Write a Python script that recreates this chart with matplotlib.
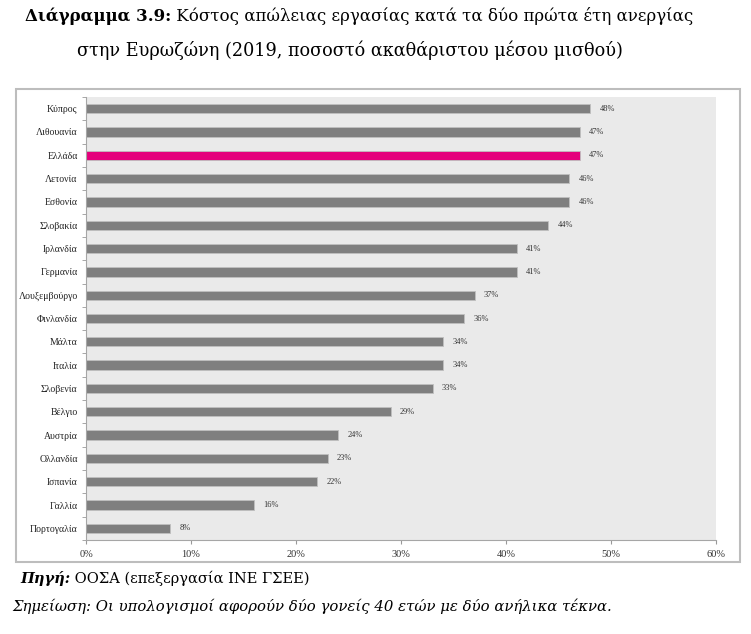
import matplotlib
matplotlib.use("Agg")
import matplotlib.pyplot as plt
from matplotlib.patches import Rectangle
import numpy as np

countries = ["Κύπρος", "Λιθουανία", "Ελλάδα", "Λετονία", "Εσθονία", "Σλοβακία",
             "Ιρλανδία", "Γερμανία", "Λουξεμβούργο", "Φινλανδία", "Μάλτα", "Ιταλία",
             "Σλοβενία", "Βέλγιο", "Αυστρία", "Ολλανδία", "Ισπανία", "Γαλλία", "Πορτογαλία"]
values = [48, 47, 47, 46, 46, 44, 41, 41, 37, 36, 34, 34, 33, 29, 24, 23, 22, 16, 8]
highlight = "Ελλάδα"
xticks = [0, 10, 20, 30, 40, 50, 60]

title_bold = "Διάγραμμα 3.9:"
title_rest = " Κόστος απώλειας εργασίας κατά τα δύο πρώτα έτη ανεργίας"
title_line2 = "στην Ευρωζώνη (2019, ποσοστό ακαθάριστου μέσου μισθού)"
source_bold = "Πηγή:"
source_rest = " ΟΟΣΑ (επεξεργασία ΙΝΕ ΓΣΕΕ)"
note = "Σημείωση: Οι υπολογισμοί αφορούν δύο γονείς 40 ετών με δύο ανήλικα τέκνα."

fig = plt.figure(figsize=(7.51, 6.34), dpi=100)
W, H = 751, 634

# outer frame
fig.patches.append(Rectangle((16 / W, 1 - 562 / H), (740 - 16) / W, (562 - 89) / H,
                             transform=fig.transFigure, fill=False,
                             edgecolor="#BDBDBD", lw=1.5))

ax = fig.add_axes([86 / W, 1 - 540 / H, (716 - 86) / W, (540 - 97) / H])
ax.set_facecolor("#EAEAEA")
n = len(countries)
y = np.arange(n)
colors = ["#E4007C" if c == highlight else "#7F7F7F" for c in countries]
ax.barh(y, values, height=0.4, color=colors, edgecolor="#BFBFBF", linewidth=0.6)
for yi, v in zip(y, values):
    ax.text(v + 0.9, yi, f"{v}%", va="center", ha="left", fontsize=6,
            family="Liberation Serif", color="#333333")

ax.set_xlim(0, 60)
ax.set_ylim(n - 0.5, -0.5)
ax.set_xticks(xticks)
ax.set_xticklabels([f"{t}%" for t in xticks], family="Liberation Serif", fontsize=7.5, color="#333333")
ax.set_yticks(y)
ax.set_yticklabels(countries, family="Liberation Serif", fontsize=7, color="#222222")
ax.set_yticks(np.arange(-0.5, n, 1), minor=True)
ax.tick_params(axis="y", which="major", length=0, pad=6)
ax.tick_params(axis="y", which="minor", length=3, color="#999999", direction="out")
ax.tick_params(axis="x", length=3, color="#999999", pad=4)
for s in ["top", "right"]:
    ax.spines[s].set_visible(False)
for s in ["left", "bottom"]:
    ax.spines[s].set_color("#A6A6A6")
    ax.spines[s].set_linewidth(0.8)

fig.canvas.draw()
r = fig.canvas.get_renderer()

def fitted(x0, yc, parts, target_w, base=12):
    """Draw consecutive text parts starting at x0 (px), scaled to target width."""
    objs = []
    for txt, kw in parts:
        objs.append(fig.text(0, 0, txt, fontsize=base, va="center", ha="left", **kw))
    w = sum(o.get_window_extent(r).width for o in objs)
    size = base * target_w / w
    x = x0
    for o in objs:
        o.set_fontsize(size)
        o.set_position((x / W, 1 - yc / H))
        x += o.get_window_extent(r).width
    return objs

serif = dict(family="DejaVu Serif")
fitted(25, 16, [(title_bold, dict(weight="bold", **serif)), (title_rest, serif)], 667)
fitted(77, 50, [(title_line2, serif)], 545)
fitted(20, 578, [(source_bold, dict(weight="bold", style="italic", **serif)),
                 (source_rest, serif)], 288)
fitted(12, 606, [(note, dict(style="italic", **serif))], 597)

fig.savefig("out.png", dpi=100)
